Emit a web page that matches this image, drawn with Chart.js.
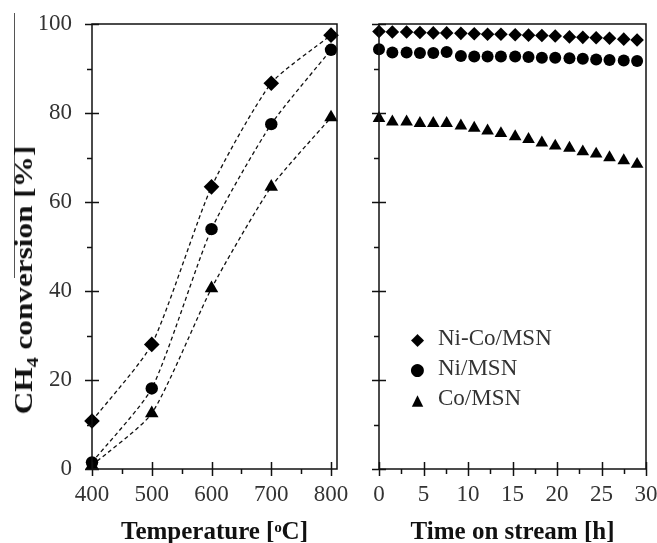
<!DOCTYPE html>
<html>
<head>
<meta charset="utf-8">
<script src="https://cdn.jsdelivr.net/npm/chart.js@4.4.1/dist/chart.umd.min.js"></script>
<style>
  html, body { margin: 0; padding: 0; background: #fff; }
  #wrap { position: relative; width: 657px; height: 543px; overflow: hidden; font-family: 'Liberation Serif', 'Times New Roman', serif; }
  canvas { position: absolute; top: 0; }
  #ytitle { position: absolute; left: 28px; top: 280px; transform: translate(-50%, -50%) rotate(-90deg) scaleX(1.25); white-space: nowrap; font-weight: bold; font-size: 25px; line-height: 25px; color: #111; }
  #ytitle sub { font-size: 16px; }
  #yline { position: absolute; left: 14px; top: 13px; width: 0; height: 265px; border-left: 1px solid #555; }
  #legend { position: absolute; left: 407px; top: 323px; font-size: 23px; color: #333; }
  #legend div { height: 30px; line-height: 30px; white-space: nowrap; }
  #legend span { display: inline-block; width: 21px; text-align: center; font-family: 'DejaVu Sans', sans-serif; color: #000; margin-right: 10px; }
</style>
</head>
<body>
<div id="wrap">
  <canvas id="left" width="310" height="543" style="left:40px"></canvas>
  <canvas id="right" width="307" height="543" style="left:350px"></canvas>
  <div id="yline"></div>
  <div id="ytitle">CH<sub>4</sub> conversion [%]</div>
  <div id="legend">
    <div><span style="font-size:17px">&#9670;</span>Ni-Co/MSN</div>
    <div><span style="font-size:17px">&#9679;</span>Ni/MSN</div>
    <div><span style="font-size:15px">&#9650;</span>Co/MSN</div>
  </div>
</div>
<script>
// catalyst series
const seriesNames = ['Ni-Co/MSN', 'Ni/MSN', 'Co/MSN'];

// left panel: conversion vs temperature
const temps = [400, 500, 600, 700, 800];
const niCoTemp = [10.8, 28.0, 63.4, 86.7, 97.5];
const niTemp = [1.5, 18.1, 53.9, 77.5, 94.2];
const coTemp = [0.8, 12.5, 40.6, 63.4, 79.0];

// right panel: stability test, conversion vs time on stream
const hours = [0, 1.5, 3.1, 4.6, 6.1, 7.6, 9.2, 10.7, 12.2, 13.7, 15.3, 16.8, 18.3, 19.8, 21.4, 22.9, 24.4, 25.9, 27.5, 29.0];
const niCoTime = [98.3, 98.2, 98.2, 98.1, 98.0, 98.0, 97.9, 97.8, 97.7, 97.7, 97.6, 97.5, 97.4, 97.3, 97.1, 97.0, 96.9, 96.8, 96.6, 96.4];
const niTime = [94.3, 93.6, 93.6, 93.5, 93.5, 93.7, 92.8, 92.7, 92.7, 92.7, 92.7, 92.6, 92.4, 92.4, 92.3, 92.2, 92.0, 91.9, 91.8, 91.7];
const coTime = [78.8, 78.0, 78.0, 77.7, 77.7, 77.7, 77.1, 76.6, 76.0, 75.4, 74.7, 74.1, 73.3, 72.6, 72.1, 71.3, 70.8, 70.0, 69.3, 68.5];

const styles = ['rectRot', 'circle', 'triangle'];
const FONT = "'Liberation Serif', 'Times New Roman', serif";

function pts(xs, ys) {
  return xs.map((x, i) => ({ x: x, y: ys[i] }));
}

// box round the plot area plus tick marks (majors cross the axis, minors only outside)
const frame = {
  id: 'frame',
  afterDraw(chart, args, opts) {
    const { ctx, chartArea: a, scales } = chart;
    ctx.save();
    ctx.strokeStyle = '#111';
    ctx.lineWidth = 1.5;
    ctx.strokeRect(a.left, a.top, a.right - a.left, a.bottom - a.top);
    ctx.beginPath();
    scales.y.ticks.forEach(t => {
      const py = Math.round(scales.y.getPixelForValue(t.value)) + 0.5;
      const major = t.value % 20 === 0;
      ctx.moveTo(a.left - (major ? 7 : 5), py);
      ctx.lineTo(a.left + (major ? 7 : 0), py);
    });
    scales.x.ticks.forEach(t => {
      const px = Math.round(scales.x.getPixelForValue(t.value)) + 0.5;
      const major = Math.abs(t.value % opts.xMajor) < 1e-6;
      ctx.moveTo(px, a.bottom + (major ? 7 : 5));
      ctx.lineTo(px, a.bottom - (major ? 7 : 0));
    });
    ctx.stroke();
    ctx.restore();
  }
};

function makeChart(id, datasets, xOpts, yWidth, padRight, xMajor, showY) {
  return new Chart(document.getElementById(id), {
    type: 'scatter',
    data: { datasets: datasets },
    plugins: [frame],
    options: {
      responsive: false,
      animation: false,
      layout: { padding: { top: 24, right: padRight, left: 0, bottom: 0 } },
      plugins: {
        legend: { display: false },
        tooltip: { enabled: false },
        frame: { xMajor: xMajor }
      },
      scales: {
        x: Object.assign({
          type: 'linear',
          grid: { display: false, drawTicks: false },
          border: { display: false },
          afterFit(s) { s.height = 74; s.paddingLeft = 0; s.paddingRight = 0; }
        }, xOpts),
        y: {
          min: 0, max: 100,
          grid: { display: false, drawTicks: false },
          border: { display: false },
          ticks: {
            stepSize: 10, autoSkip: false, padding: 20,
            color: '#333', font: { family: FONT, size: 23 },
            callback: v => (showY && v % 20 === 0) ? v : ''
          },
          afterFit(s) { s.width = yWidth; s.paddingTop = 0; s.paddingBottom = 0; }
        }
      }
    }
  });
}

const tempSets = [niCoTemp, niTemp, coTemp].map((d, i) => ({
  label: seriesNames[i],
  data: pts(temps, d),
  showLine: true,
  tension: 0.2,
  borderColor: '#111',
  borderWidth: 1.3,
  borderDash: [4, 3],
  pointStyle: styles[i],
  pointRadius: [7.8, 6.2, 7.8][i],
  pointBackgroundColor: '#000',
  pointBorderColor: '#000',
  pointBorderWidth: 0,
  clip: false
}));

const timeSets = [niCoTime, niTime, coTime].map((d, i) => ({
  label: seriesNames[i],
  data: pts(hours, d),
  showLine: false,
  pointStyle: styles[i],
  pointRadius: [6.8, 6, 7.3][i],
  pointBackgroundColor: '#000',
  pointBorderColor: '#000',
  pointBorderWidth: 0,
  clip: false
}));

const titleFont = { family: FONT, size: 25, weight: 'bold', lineHeight: 0.8 };

makeChart('left', tempSets, {
  min: 400, max: 810,
  ticks: {
    stepSize: 50, autoSkip: false, includeBounds: false, padding: 12, maxRotation: 0,
    color: '#333', font: { family: FONT, size: 23 },
    callback: v => v % 100 === 0 ? v : ''
  },
  title: { display: true, text: 'Temperature [ᵒC]', color: '#111', padding: 0, font: titleFont }
}, 52, 13, 100, true);

makeChart('right', timeSets, {
  min: 0, max: 30,
  ticks: {
    stepSize: 2.5, autoSkip: false, padding: 12, maxRotation: 0,
    color: '#333', font: { family: FONT, size: 23 },
    callback: v => v % 5 === 0 ? v : ''
  },
  title: { display: true, text: 'Time on stream [h]', color: '#111', padding: 0, font: titleFont }
}, 29, 11, 5, false);
</script>
</body>
</html>
